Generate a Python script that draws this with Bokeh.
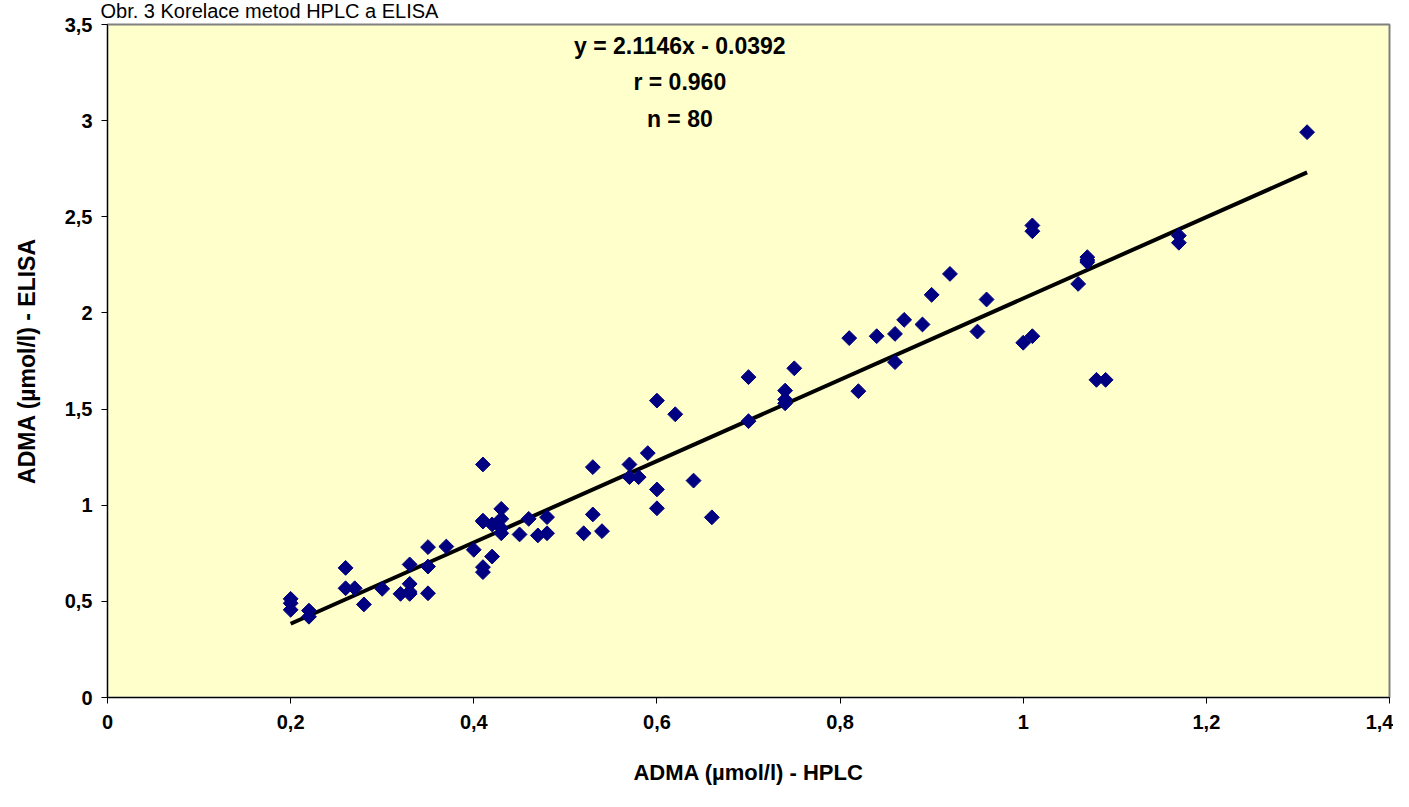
import math
from bokeh.plotting import figure
from bokeh.models import FixedTicker, Label, Range1d
from bokeh.embed import file_html
from bokeh.resources import INLINE

# ---- data ----
hplc = [0.20, 0.20, 0.20, 0.22, 0.22, 0.26, 0.26, 0.27, 0.28, 0.30,
        0.32, 0.33, 0.33, 0.33, 0.33, 0.35, 0.35, 0.35, 0.37, 0.40,
        0.41, 0.41, 0.41, 0.41, 0.41, 0.42, 0.42, 0.43, 0.43, 0.43,
        0.43, 0.45, 0.46, 0.47, 0.48, 0.48, 0.52, 0.53, 0.53, 0.54,
        0.57, 0.57, 0.58, 0.59, 0.60, 0.60, 0.60, 0.62, 0.64, 0.66,
        0.70, 0.70, 0.74, 0.74, 0.74, 0.75, 0.81, 0.82, 0.84, 0.86,
        0.86, 0.87, 0.89, 0.90, 0.92, 0.95, 0.96, 1.00, 1.01, 1.01,
        1.01, 1.06, 1.07, 1.07, 1.07, 1.08, 1.09, 1.17, 1.17, 1.31]
elisa = [0.513, 0.456, 0.49, 0.452, 0.42, 0.674, 0.568, 0.568, 0.484, 0.565,
         0.539, 0.692, 0.591, 0.539, 0.55, 0.782, 0.681, 0.542, 0.785, 0.768,
         1.212, 0.915, 0.92, 0.678, 0.652, 0.90, 0.733, 0.981, 0.929, 0.88,
         0.854, 0.848, 0.929, 0.843, 0.938, 0.854, 0.854, 1.198, 0.952, 0.865,
         1.212, 1.146, 1.146, 1.271, 1.544, 1.082, 0.984, 1.473, 1.128, 0.937,
         1.666, 1.437, 1.596, 1.530, 1.55, 1.712, 1.869, 1.593, 1.879, 1.891,
         1.744, 1.964, 1.940, 2.094, 2.203, 1.903, 2.070, 1.845, 2.455, 2.425,
         1.879, 2.151, 2.290, 2.264, 2.275, 1.652, 1.652, 2.402, 2.365, 2.940]

slope = 2.1146
intercept = -0.0392
stats_text = ["y = 2.1146x - 0.0392", "r = 0.960", "n = 80"]
stats_y = [3.39, 3.20, 3.01]

x_ticks = [0, 0.2, 0.4, 0.6, 0.8, 1.0, 1.2, 1.4]
x_tick_labels = ["0", "0,2", "0,4", "0,6", "0,8", "1", "1,2", "1,4"]
y_ticks = [0, 0.5, 1.0, 1.5, 2.0, 2.5, 3.0, 3.5]
y_tick_labels = ["0", "0,5", "1", "1,5", "2", "2,5", "3", "3,5"]

title = "Obr. 3  Korelace  metod HPLC a ELISA"
x_title = "ADMA (µmol/l) - HPLC"
y_title = "ADMA (µmol/l) - ELISA"

FONT = "Liberation Sans"

p = figure(width=1393, height=791, output_backend="svg", toolbar_location=None,
           x_range=Range1d(0, 1.4), y_range=Range1d(0, 3.5),
           min_border_left=107, min_border_right=4, min_border_top=24, min_border_bottom=94)
p.background_fill_color = "#FFFFCC"
p.border_fill_color = "white"
p.outline_line_color = "#808080"
p.outline_line_width = 2
p.xgrid.visible = False
p.ygrid.visible = False

for ax, ticks, labels in ((p.xaxis[0], x_ticks, x_tick_labels), (p.yaxis[0], y_ticks, y_tick_labels)):
    ax.ticker = FixedTicker(ticks=ticks)
    ax.major_label_overrides = {t: l for t, l in zip(ticks, labels)}
    ax.minor_tick_line_color = None
    ax.major_tick_in = 0
    ax.major_tick_out = 6
    ax.major_tick_line_color = "black"
    ax.axis_line_color = "black"
    ax.major_label_text_font = FONT
    ax.major_label_text_font_style = "bold"
    ax.major_label_text_font_size = "20px"
    ax.major_label_text_color = "black"
    ax.axis_label_text_font = FONT
    ax.axis_label_text_font_style = "bold"
    ax.axis_label_text_font_size = "22px"
    ax.axis_label_text_color = "black"

p.xaxis.axis_label = x_title
p.yaxis.axis_label = y_title
p.yaxis.axis_label_text_font_size = "23px"
p.xaxis.major_label_standoff = 11
p.xaxis.axis_label_standoff = 28
p.yaxis.major_label_standoff = 9
p.yaxis.axis_label_standoff = 22

# trend line
xs = [min(hplc), max(hplc)]
ys = [slope * v + intercept for v in xs]
p.line(xs, ys, line_color="black", line_width=4)

# points
p.scatter(hplc, elisa, marker="square", angle=math.pi / 4, size=10.5,
          fill_color="#000080", line_color="#000080")

# statistics text
for t, yv in zip(stats_text, stats_y):
    p.add_layout(Label(x=0.625, y=yv, text=t, text_align="center", text_baseline="middle",
                       text_font=FONT, text_font_style="bold", text_font_size="23px",
                       text_color="black"))

# title, in the panel above the plot area
p.add_layout(Label(x=100, y=10, x_units="canvas", y_units="canvas", text=title,
                   text_align="left", text_baseline="alphabetic", text_font=FONT,
                   text_font_size="20px", text_color="black"), "above")

open("out.html", "w").write(file_html(p, INLINE))
